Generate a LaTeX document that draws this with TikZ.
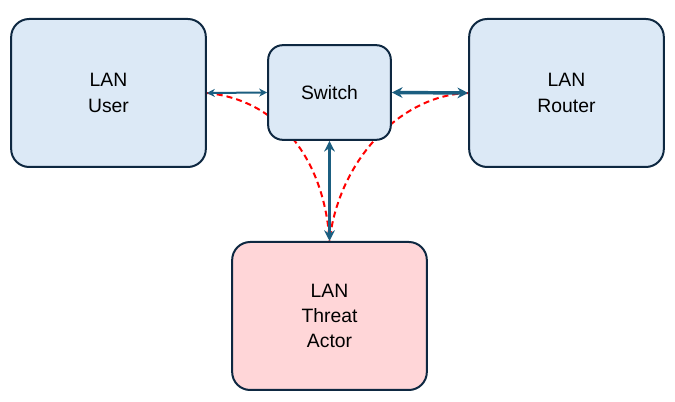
\documentclass[tikz,border=0pt]{standalone}
\usepackage{fontspec}
\setmainfont{Liberation Sans}
\usetikzlibrary{arrows.meta,backgrounds}

\definecolor{boxline}{HTML}{0E2841}
\definecolor{lanblue}{HTML}{DCE9F6}
\definecolor{lanpink}{HTML}{FFD6D8}
\definecolor{linkblue}{HTML}{1B5E80}

\tikzset{
  lanbox/.style={draw=boxline, line width=1.5pt, rounded corners=13.5pt,
    fill=lanblue, align=center, font=\fontsize{14.5}{19}\selectfont,
    minimum width=146pt, minimum height=111pt},
  threatbox/.style={lanbox, fill=lanpink},
  switchbox/.style={lanbox, rounded corners=11pt,
    minimum width=92pt, minimum height=71pt},
  thinlink/.style={linkblue, line width=1.5pt,
    {Stealth[length=6pt,width=6pt]}-{Stealth[length=6pt,width=6pt]}},
  thicklink/.style={linkblue, line width=2.6pt,
    {Stealth[length=8pt,width=8pt]}-{Stealth[length=8pt,width=8pt]}},
  sniff/.style={red, line width=1.5pt, dash pattern=on 4.5pt off 3pt}
}

\begin{document}
\begin{tikzpicture}[x=0.75pt, y=-0.75pt]
  \useasboundingbox (0,0) rectangle (675,402);

  \node [lanbox] (user) at (108.5, 93) {LAN\\User};
  \node [switchbox] (switch) at (329.5, 92.5) {Switch};
  \node [lanbox] (router) at (566.5, 93) {LAN\\Router};
  \node [threatbox] (threat) at (329.5, 316) {LAN\\Threat\\Actor};

  \begin{scope}[on background layer]
    \draw [sniff] (user.east) .. controls +(73,7) and +(-5,-80) .. (threat.north);
    \draw [sniff] (router.west) .. controls +(-68,2) and +(9,-80) .. (threat.north);
  \end{scope}

  \draw [thinlink] (user.east) -- (switch.west);
  \draw [thicklink] (switch.east) -- (router.west);
  \draw [thicklink] (switch.south) -- (threat.north);
\end{tikzpicture}
\end{document}
